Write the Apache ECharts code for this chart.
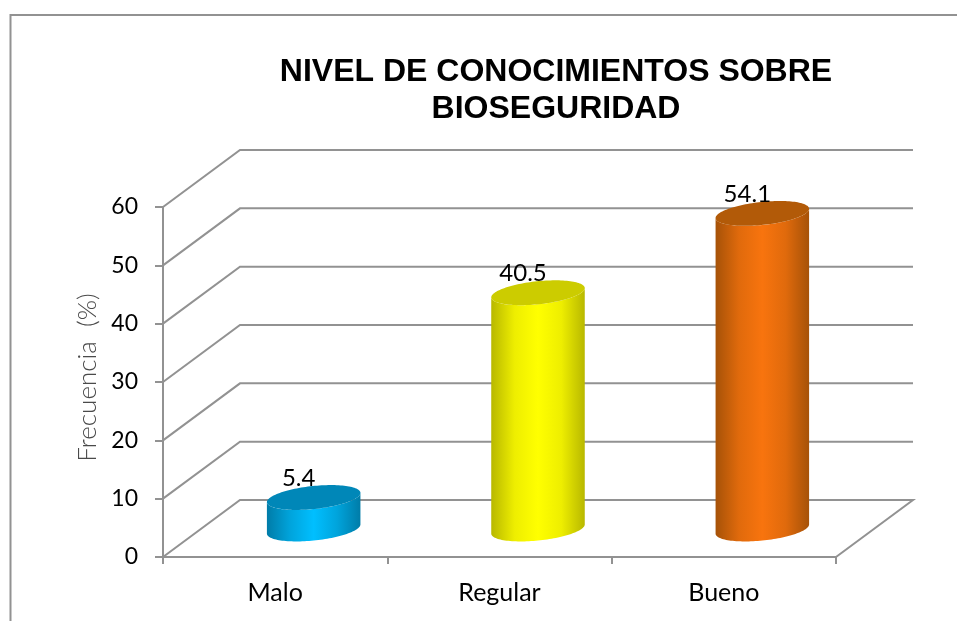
<!DOCTYPE html>
<html>
<head>
<meta charset="utf-8">
<style>html,body{margin:0;padding:0;background:#fff}#c{width:957px;height:621px}</style>
<script src="https://cdn.jsdelivr.net/npm/echarts@6/dist/echarts.min.js"></script>
</head>
<body>
<div id="c"></div>
<script>
var titleText = 'NIVEL DE CONOCIMIENTOS SOBRE\nBIOSEGURIDAD';
var yAxisName = 'Frecuencia  (%)';
var categories = ['Malo', 'Regular', 'Bueno'];
var values = [5.4, 40.5, 54.1];
var yTicks = [0, 10, 20, 30, 40, 50, 60];
var barEdge = ['#007CA8', '#B8B800', '#A65208'];
var barNear = ['#00A4DC', '#EEEE00', '#E06A0C'];
var barMid = ['#00BFFF', '#FFFF00', '#F8740E'];
var barTop = ['#0087B8', '#CCCC00', '#B25A08'];

var DEPTH_X = 77, DEPTH_Y = 57, RX = 47, RY = 11.5, TILT = -6 * Math.PI / 180;
var GREY = '#929292';

function ell(cx, cy, t) {
  var c = Math.cos(t), s = Math.sin(t);
  return [cx + RX * c * Math.cos(TILT) - RY * s * Math.sin(TILT),
          cy + RX * c * Math.sin(TILT) + RY * s * Math.cos(TILT)];
}
function edgeAngle(sign) { // parameter of the extreme left/right point
  var t = Math.atan2(-RY * Math.sin(TILT), RX * Math.cos(TILT));
  return sign > 0 ? t : t + Math.PI;
}
function renderWalls(params, api) {
  var v = api.value(0);
  var cs = params.coordSys;
  var p = api.coord([0, v]);
  var y = p[1], x0 = cs.x, x1 = cs.x + cs.width;
  var pts = [[x0, y], [x0 + DEPTH_X, y - DEPTH_Y], [x1 + DEPTH_X, y - DEPTH_Y]];
  if (v === 0) pts.push([x1, y]);
  return {
    type: 'polyline',
    shape: { points: pts },
    style: { stroke: GREY, lineWidth: 2, fill: null },
    silent: true
  };
}
function renderBar(params, api) {
  var i = api.value(0), v = api.value(1);
  var base = api.coord([i, 0]), top = api.coord([i, v]);
  var cx = base[0] + DEPTH_X / 2;
  var by = base[1] - DEPTH_Y / 2 + 0.5, ty = top[1] - DEPTH_Y / 2 + 0.5;
  var n = 64, side = [], topPts = [], k;
  var tR = edgeAngle(1), tL = edgeAngle(-1);
  // side outline: down the left, along the front of the base, up the right
  for (k = 0; k <= n; k++) side.push(ell(cx, ty, tR + (tL - tR) * k / n));
  for (k = 0; k <= n; k++) side.push(ell(cx, by, tL + (tR - tL) * k / n));
  for (k = 0; k < n * 2; k++) topPts.push(ell(cx, ty, Math.PI * k / n));
  return {
    type: 'group',
    children: [
      {
        type: 'polygon',
        shape: { points: side },
        style: {
          fill: {
            type: 'linear', x: 0, y: 0, x2: 1, y2: 0,
            colorStops: [
              { offset: 0, color: barEdge[i] },
              { offset: 0.25, color: barNear[i] },
              { offset: 0.5, color: barMid[i] },
              { offset: 0.75, color: barNear[i] },
              { offset: 1, color: barEdge[i] }
            ]
          }
        }
      },
      { type: 'polygon', shape: { points: topPts }, style: { fill: barTop[i] } },
      {
        type: 'text',
        style: {
          text: String(v), x: cx - 15, y: ty - 19,
          align: 'center', verticalAlign: 'middle',
          font: '24px Lato', fill: '#000'
        }
      }
    ]
  };
}

var chart = echarts.init(document.getElementById('c'), null, { renderer: 'canvas' });
chart.setOption({
  animation: false,
  backgroundColor: '#fff',
  title: {
    text: titleText, left: 551, top: 49, textAlign: 'center',
    textStyle: { fontFamily: 'Liberation Sans', fontWeight: 'bold', fontSize: 32, lineHeight: 37, color: '#000' }
  },
  grid: { left: 163, top: 207, width: 673, height: 350 },
  graphic: [
    { type: 'polyline', shape: { points: [[10.5, 621], [10.5, 15], [957, 15]] }, style: { stroke: GREY, lineWidth: 2, fill: null }, silent: true }
  ],
  xAxis: {
    type: 'category', data: categories,
    axisLine: { lineStyle: { color: GREY, width: 2 } },
    axisTick: { show: true, length: 7, lineStyle: { color: GREY, width: 2 } },
    axisLabel: { margin: 23, color: '#000', fontFamily: 'Lato', fontSize: 25 }
  },
  yAxis: {
    type: 'value', min: 0, max: 60, interval: 10,
    name: yAxisName, nameLocation: 'middle', nameGap: 62, nameRotate: 90,
    nameTextStyle: { color: '#4A4A4A', fontFamily: 'Lato', fontWeight: 300, fontSize: 26, padding: [0, 0, 0, 9] },
    axisLine: { show: true, lineStyle: { color: GREY, width: 2 } },
    axisTick: { show: true, length: 8, lineStyle: { color: GREY, width: 2 } },
    axisLabel: { margin: 25, color: '#000', fontFamily: 'Lato', fontSize: 23 },
    splitLine: { show: false }
  },
  series: [
    { type: 'custom', z: 1, data: yTicks.map(function (t) { return [t]; }), encode: { y: 0 }, renderItem: renderWalls, silent: true },
    { type: 'custom', z: 2, data: values.map(function (v, i) { return [i, v]; }), encode: { x: 0, y: 1 }, renderItem: renderBar, silent: true, clip: false }
  ]
});
</script>
</body>
</html>
